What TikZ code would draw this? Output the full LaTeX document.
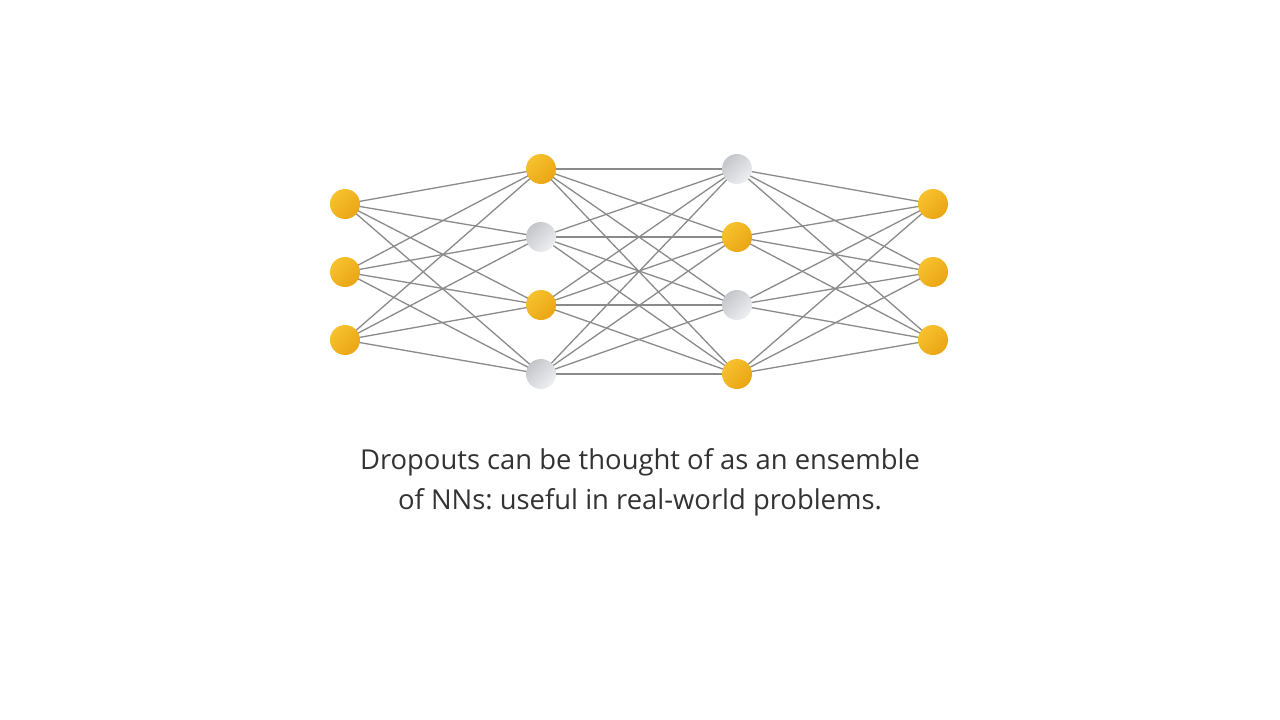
\documentclass[tikz,border=0pt]{standalone}
\usepackage{fontspec}
\setmainfont{Open Sans}
\frenchspacing
\begin{document}
\begin{tikzpicture}[x=1pt,y=-1pt,
  neuron/.style={circle,minimum size=30pt,inner sep=0pt},
  on/.style={neuron,left color=ballA,right color=ballB,shading angle=45},
  off/.style={neuron,left color=greyA,right color=greyB,shading angle=45},
  link/.style={draw=linkgrey,line width=1.3pt}]
\definecolor{ballA}{HTML}{F7C12E}
\definecolor{ballB}{HTML}{EAA514}
\definecolor{greyA}{HTML}{C4C6CB}
\definecolor{greyB}{HTML}{EEEFF1}
\definecolor{linkgrey}{HTML}{8A8A8A}
\definecolor{txt}{HTML}{333333}
\useasboundingbox (0,0) rectangle (1280,720);
\fill[white] (0,0) rectangle (1280,720);
% coordinates
\coordinate (a1) at (345,204);
\coordinate (a2) at (345,272);
\coordinate (a3) at (345,340);
\coordinate (b1) at (541,169);
\coordinate (b2) at (541,237);
\coordinate (b3) at (541,305);
\coordinate (b4) at (541,374);
\coordinate (c1) at (737,169);
\coordinate (c2) at (737,237);
\coordinate (c3) at (737,305);
\coordinate (c4) at (737,374);
\coordinate (d1) at (933,204);
\coordinate (d2) at (933,272);
\coordinate (d3) at (933,340);
% links
\foreach \i in {1,2,3}{\foreach \j in {1,2,3,4}{\draw[link] (a\i) -- (b\j);}}
\foreach \i in {1,2,3,4}{\foreach \j in {1,2,3,4}{\draw[link] (b\i) -- (c\j);}}
\foreach \i in {1,2,3,4}{\foreach \j in {1,2,3}{\draw[link] (c\i) -- (d\j);}}
% neurons
\node[on] (A1) at (a1) {};
\node[on] (A2) at (a2) {};
\node[on] (A3) at (a3) {};
\node[on] (B1) at (b1) {};
\node[off] (B2) at (b2) {};
\node[on] (B3) at (b3) {};
\node[off] (B4) at (b4) {};
\node[off] (C1) at (c1) {};
\node[on] (C2) at (c2) {};
\node[off] (C3) at (c3) {};
\node[on] (C4) at (c4) {};
\node[on] (D1) at (d1) {};
\node[on] (D2) at (d2) {};
\node[on] (D3) at (d3) {};
% caption
\node[text=txt,font=\fontsize{27.4}{40}\selectfont,align=center] (cap) at (640,482)
  {Dropouts can be thought of as an ensemble\\of NNs: useful in real-world problems.};
\end{tikzpicture}
\end{document}
